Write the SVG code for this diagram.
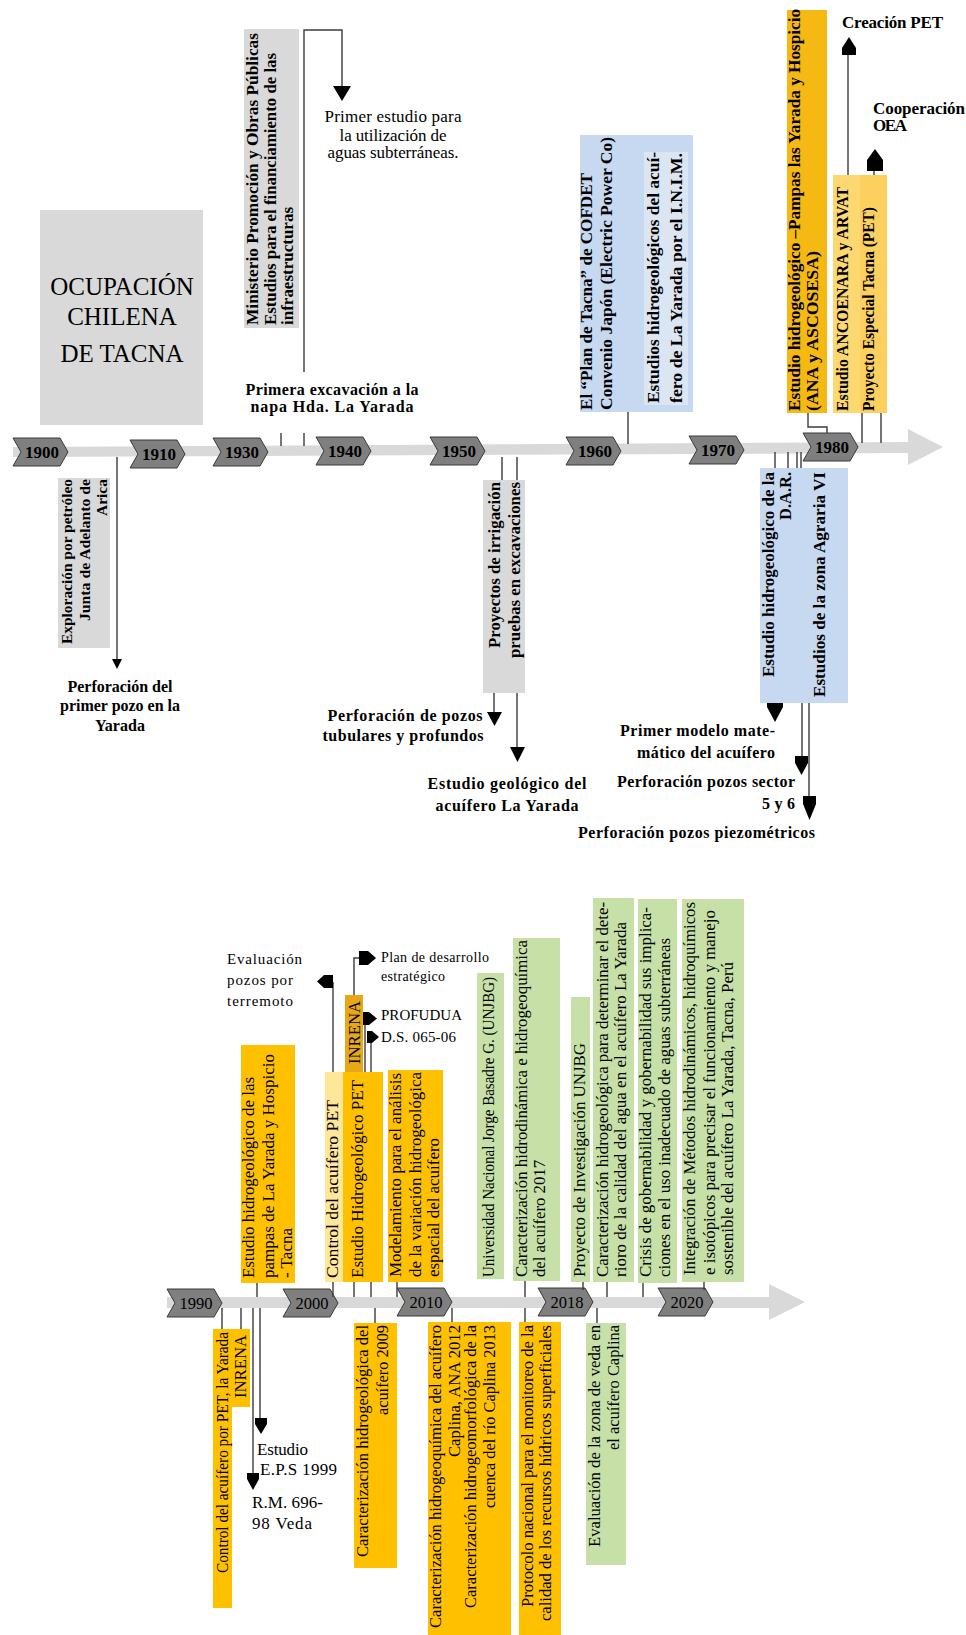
<svg xmlns="http://www.w3.org/2000/svg" width="966" height="1635" viewBox="0 0 966 1635">
<defs>
<style>
.gray{fill:#d9d9d9}
.blue{fill:#c6d9f0}
.blue2{fill:#dce6f2}
.gold{fill:#ffc000}
.gold2{fill:#f6b913}
.lt{fill:#fdd870}
.lt3{fill:#fbd05f}
.lt2{fill:#ffe699}
.dk{fill:#e6a817}
.green{fill:#c6e0a8}
.bar{fill:#d9d9d9}
.chev{fill:#7f7f7f;stroke:#3a3a3a;stroke-width:1}
.b{font-family:"Liberation Serif","Times New Roman",serif;font-weight:bold;fill:#000}
.r{font-family:"Liberation Serif","Times New Roman",serif;fill:#000}
.ln{stroke:#3c3c3c;stroke-width:1.4;fill:none}
.ah{fill:#000}
.yt{font-family:"Liberation Serif","Times New Roman",serif;font-weight:bold;font-size:17px;text-anchor:middle;fill:#000}
.yb{font-family:"Liberation Serif","Times New Roman",serif;font-size:16.5px;text-anchor:middle;fill:#000}
.m{text-anchor:middle}
.e{text-anchor:end}
</style>
<path id="chev" d="M0,0H47L55,14L47,28H0L8,14Z"/>
</defs>

<!-- timeline bars -->
<g id="timeline-top">
<polygon class="bar" points="13,447 908,442 908,429 943,447 908,465 908,453 13,457"/>
<g id="y1900" transform="translate(13,438)"><use href="#chev" class="chev"/><text class="yt" x="29" y="20">1900</text></g>
<g id="y1910" transform="translate(130,440)"><use href="#chev" class="chev"/><text class="yt" x="29" y="20">1910</text></g>
<g id="y1930" transform="translate(213,438)"><use href="#chev" class="chev"/><text class="yt" x="29" y="20">1930</text></g>
<g id="y1940" transform="translate(316,437)"><use href="#chev" class="chev"/><text class="yt" x="29" y="20">1940</text></g>
<g id="y1950" transform="translate(430,437)"><use href="#chev" class="chev"/><text class="yt" x="29" y="20">1950</text></g>
<g id="y1960" transform="translate(566,437)"><use href="#chev" class="chev"/><text class="yt" x="29" y="20">1960</text></g>
<g id="y1970" transform="translate(689,436)"><use href="#chev" class="chev"/><text class="yt" x="29" y="20">1970</text></g>
<g id="y1980" transform="translate(803,433)"><use href="#chev" class="chev"/><text class="yt" x="29" y="20">1980</text></g>
</g>

<g id="timeline-bottom">
<polygon class="bar" points="167,1297 769,1297 769,1284 805,1302 769,1320 769,1308 167,1308"/>
<g id="y1990" transform="translate(167,1289)"><use href="#chev" class="chev"/><text class="yb" x="29" y="20">1990</text></g>
<g id="y2000" transform="translate(283,1289)"><use href="#chev" class="chev"/><text class="yb" x="29" y="20">2000</text></g>
<g id="y2010" transform="translate(397,1288)"><use href="#chev" class="chev"/><text class="yb" x="29" y="20">2010</text></g>
<g id="y2018" transform="translate(538,1288)"><use href="#chev" class="chev"/><text class="yb" x="29" y="20">2018</text></g>
<g id="y2020" transform="translate(658,1288)"><use href="#chev" class="chev"/><text class="yb" x="29" y="20">2020</text></g>
</g>

<!-- connectors -->
<g id="connectors">
<path class="ln" d="M304,372V30H342V88"/>
<polygon class="ah" points="333,86 351,86 342,101"/>
<path class="ln" d="M304,433V446"/>
<path class="ln" d="M281,433V446"/>
<path class="ln" d="M117,457V662"/>
<polygon class="ah" points="112,659 122,659 117,669"/>
<path class="ln" d="M502,457V480M517,457V480"/>
<path class="ln" d="M494,693V713"/>
<polygon class="ah" points="487,712 502,712 494.5,726"/>
<path class="ln" d="M517,693V748"/>
<polygon class="ah" points="510,747 525,747 517.5,762"/>
<path class="ln" d="M628,412V444"/>
<path class="ln" d="M808,413V427H827V433"/>
<path class="ln" d="M862,413V443M881,413V443"/>
<path class="ln" d="M848,175V52"/>
<polygon class="ah" points="849,37 856,48 856,55 842,55 842,48"/>
<path class="ln" d="M886,197H874V168"/>
<polygon class="ah" points="875,149 883,160 883,171 867,171 867,160"/>
<path class="ln" d="M775,452V468M788,452V468M797,452V468M801,452V468"/>
<polygon class="ah" points="767,700 783,700 783,707 775,722 767,707"/>
<path class="ln" d="M802,703V758M809,703V798"/>
<polygon class="ah" points="795,756 808,756 808,763 801.5,775 795,763"/>
<polygon class="ah" points="803,796 816,796 816,804 809.5,820 803,804"/>

<path class="ln" d="M257,1283V1297M333,1282V1297M354,1282V1297M371,1282V1297M397,1282V1297M525,1281V1297M583,1282V1290M607,1282V1297M643,1283V1297M704,1282V1290"/>
<path class="ln" d="M333,1072V982"/>
<polygon class="ah" points="333,975 324,975 317,981.5 324,988 333,988"/>
<path class="ln" d="M354,995V958H360"/>
<polygon class="ah" points="359,951 368,951 376,958 368,965 359,965"/>
<path class="ln" d="M365,1072V1018"/>
<polygon class="ah" points="363,1012 369,1012 377,1018.5 369,1025 363,1025"/>
<path class="ln" d="M371,1072V1037"/>
<polygon class="ah" points="367,1031 372,1031 379,1037 372,1043 367,1043"/>
<path class="ln" d="M222,1308V1329M241,1308V1329M375,1308V1323M452,1308V1322M525,1308V1322M597,1308V1323"/>
<path class="ln" d="M253,1308V1478"/>
<polygon class="ah" points="247,1473 259,1473 259,1479 253,1490 247,1479"/>
<path class="ln" d="M260,1308V1420"/>
<polygon class="ah" points="255,1418 267,1418 267,1424 261,1434 255,1424"/>
</g>

<!-- top nodes -->
<g id="ocupacion">
<rect class="gray" x="40" y="210" width="163" height="215"/>
<text class="r m" font-size="25" x="122" y="295">OCUPACIÓN</text>
<text class="r m" font-size="25" x="122" y="325">CHILENA</text>
<text class="r m" font-size="25" x="122" y="362">DE TACNA</text>
</g>

<g id="ministerio">
<rect class="gray" x="244" y="29" width="55" height="299"/>
<text class="b" font-size="16" transform="translate(258,325) rotate(-90)" textLength="292" lengthAdjust="spacingAndGlyphs">Ministerio Promoción y Obras Públicas</text>
<text class="b" font-size="16" transform="translate(275.5,325) rotate(-90)" textLength="272" lengthAdjust="spacingAndGlyphs">Estudios para el financiamiento de las</text>
<text class="b" font-size="16" transform="translate(293,325) rotate(-90)" textLength="118" lengthAdjust="spacingAndGlyphs">infraestructuras</text>
</g>

<g id="primer-estudio">
<text class="r m" font-size="17" x="393" y="122" textLength="137">Primer estudio para</text>
<text class="r m" font-size="17" x="393" y="141" textLength="107">la utilización de</text>
<text class="r m" font-size="17" x="393" y="158" textLength="131">aguas subterráneas.</text>
</g>

<g id="primera-excavacion">
<text class="b m" font-size="16" x="332" y="395" textLength="173">Primera excavación a la</text>
<text class="b m" font-size="16" x="332" y="412" textLength="163">napa Hda. La Yarada</text>
</g>

<g id="exploracion">
<rect class="gray" x="58" y="478" width="52" height="170"/>
<text class="b e" font-size="15.5" transform="translate(72,479) rotate(-90)" textLength="165" lengthAdjust="spacingAndGlyphs">Exploración por petróleo</text>
<text class="b e" font-size="15.5" transform="translate(90,479) rotate(-90)" textLength="142" lengthAdjust="spacingAndGlyphs">Junta de Adelanto de</text>
<text class="b e" font-size="15.5" transform="translate(107,479) rotate(-90)" textLength="37" lengthAdjust="spacingAndGlyphs">Arica</text>
</g>

<g id="perforacion-primer-pozo">
<text class="b m" font-size="16" x="120" y="692" textLength="105">Perforación del</text>
<text class="b m" font-size="16" x="120" y="711" textLength="120">primer pozo en la</text>
<text class="b m" font-size="16" x="120" y="731" textLength="50">Yarada</text>
</g>

<g id="proyectos-irrigacion">
<rect class="gray" x="483" y="480" width="42" height="213"/>
<text class="b e" font-size="16" transform="translate(500,482) rotate(-90)" textLength="166" lengthAdjust="spacingAndGlyphs">Proyectos de irrigación</text>
<text class="b e" font-size="16" transform="translate(520,482) rotate(-90)" textLength="176" lengthAdjust="spacingAndGlyphs">pruebas en excavaciones</text>
</g>

<g id="perforacion-tubulares">
<text class="b m" font-size="16" x="405" y="721" textLength="155">Perforación de pozos</text>
<text class="b m" font-size="16" x="403" y="741" textLength="161">tubulares y profundos</text>
</g>

<g id="estudio-geologico">
<text class="b m" font-size="16" x="507" y="789" textLength="159">Estudio  geológico del</text>
<text class="b m" font-size="16" x="507" y="811" textLength="143">acuífero La Yarada</text>
</g>

<g id="plan-tacna">
<rect class="blue" x="580" y="135" width="113" height="277"/>
<text class="b" font-size="17" transform="translate(592,410) rotate(-90)" textLength="237" lengthAdjust="spacingAndGlyphs">El “Plan de Tacna” de COFDET</text>
<text class="b" font-size="17" transform="translate(612,410) rotate(-90)" textLength="273" lengthAdjust="spacingAndGlyphs">Convenio Japón (Electric Power Co)</text>
</g>

<g id="estudios-inim">
<rect class="blue2" x="644" y="152" width="44" height="253"/>
<text class="b" font-size="16" transform="translate(659,403) rotate(-90)" textLength="251" lengthAdjust="spacingAndGlyphs">Estudios hidrogeológicos del acuí-</text>
<text class="b" font-size="16" transform="translate(682,403) rotate(-90)" textLength="250" lengthAdjust="spacingAndGlyphs">fero de La Yarada por el I.N.I.M.</text>
</g>

<g id="estudio-pampas-1980">
<rect class="gold2" x="787" y="10" width="40" height="403"/>
<text class="b" font-size="16.5" transform="translate(800,411) rotate(-90)" textLength="402" lengthAdjust="spacingAndGlyphs">Estudio hidrogeológico –Pampas las Yarada y Hospicio</text>
<text class="b" font-size="16.5" transform="translate(818,411) rotate(-90)" textLength="160" lengthAdjust="spacingAndGlyphs">(ANA y ASCOSESA)</text>
</g>

<g id="ancoenara">
<rect class="lt" x="833" y="175" width="27" height="238"/>
<text class="b" font-size="16" transform="translate(848,411) rotate(-90)" textLength="224" lengthAdjust="spacingAndGlyphs">Estudio ANCOENARA y ARVAT</text>
</g>

<g id="pet">
<rect class="lt3" x="860" y="175" width="27" height="238"/>
<text class="b" font-size="16" transform="translate(874,411) rotate(-90)" textLength="204" lengthAdjust="spacingAndGlyphs">Proyecto Especial Tacna (PET)</text>
</g>

<g id="creacion-pet">
<text class="b" font-size="17" x="842" y="28" textLength="101">Creación PET</text>
</g>

<g id="cooperacion-oea">
<text class="b" font-size="17" x="873" y="114" textLength="92">Cooperación</text>
<text class="b" font-size="17" x="873" y="131" textLength="34">OEA</text>
</g>

<g id="dar">
<rect class="blue" x="760" y="468" width="88" height="235"/>
<text class="b e" font-size="16" transform="translate(774,472) rotate(-90)" textLength="205" lengthAdjust="spacingAndGlyphs">Estudio hidrogeológico de la</text>
<text class="b e" font-size="16" transform="translate(791,472) rotate(-90)" textLength="48" lengthAdjust="spacingAndGlyphs">D.A.R.</text>
<text class="b" font-size="16" transform="translate(825,697) rotate(-90)" textLength="225" lengthAdjust="spacingAndGlyphs">Estudios de la zona Agraria VI</text>
</g>

<g id="primer-modelo">
<text class="b e" font-size="16" x="775" y="736" textLength="155">Primer modelo mate-</text>
<text class="b e" font-size="16" x="775" y="758" textLength="138">mático del acuífero</text>
</g>

<g id="perforacion-sector">
<text class="b e" font-size="16" x="795" y="787" textLength="178">Perforación pozos sector</text>
<text class="b e" font-size="16" x="795" y="809" textLength="33">5 y 6</text>
</g>

<g id="perforacion-piezometricos">
<text class="b" font-size="16" x="578" y="838" textLength="237">Perforación pozos piezométricos</text>
</g>

<!-- bottom nodes, above bar -->
<g id="estudio-pampas-tacna">
<rect class="gold" x="241" y="1045" width="54" height="238"/>
<text class="r" font-size="16" transform="translate(254,1278) rotate(-90)" textLength="201" lengthAdjust="spacingAndGlyphs">Estudio hidrogeológico de las</text>
<text class="r" font-size="16" transform="translate(274,1278) rotate(-90)" textLength="224" lengthAdjust="spacingAndGlyphs">pampas de La Yarada y Hospicio</text>
<text class="r" font-size="16" transform="translate(292,1278) rotate(-90)" textLength="50" lengthAdjust="spacingAndGlyphs">- Tacna</text>
</g>

<g id="evaluacion-terremoto">
<text class="r" font-size="15" x="227" y="964" textLength="75">Evaluación</text>
<text class="r" font-size="15" x="227" y="985" textLength="66">pozos por</text>
<text class="r" font-size="15" x="227" y="1006" textLength="66">terremoto</text>
</g>

<g id="control-pet">
<rect class="lt2" x="325" y="1072" width="18" height="210"/>
<text class="r" font-size="16" transform="translate(338,1278) rotate(-90)" textLength="178" lengthAdjust="spacingAndGlyphs">Control del acuífero PET</text>
</g>

<g id="estudio-hidro-pet">
<rect class="gold" x="343" y="1072" width="40" height="210"/>
<text class="r" font-size="16" transform="translate(363,1278) rotate(-90)" textLength="198" lengthAdjust="spacingAndGlyphs">Estudio Hidrogeológico PET</text>
</g>

<g id="inrena-top">
<rect class="dk" x="345" y="995" width="18" height="77"/>
<text class="r" font-size="16" transform="translate(360,1064) rotate(-90)" textLength="63" lengthAdjust="spacingAndGlyphs">INRENA</text>
</g>

<g id="plan-desarrollo">
<text class="r" font-size="14" x="381" y="962" textLength="108">Plan de desarrollo</text>
<text class="r" font-size="14" x="381" y="981" textLength="64">estratégico</text>
</g>

<g id="profudua">
<text class="r" font-size="15" x="381" y="1020" textLength="81">PROFUDUA</text>
</g>

<g id="ds-065">
<text class="r" font-size="15" x="381" y="1042" textLength="75">D.S. 065-06</text>
</g>

<g id="modelamiento">
<rect class="gold" x="388" y="1070" width="55" height="212"/>
<text class="r" font-size="16" transform="translate(401,1277) rotate(-90)" textLength="204" lengthAdjust="spacingAndGlyphs">Modelamiento para el análisis</text>
<text class="r" font-size="16" transform="translate(421,1277) rotate(-90)" textLength="205" lengthAdjust="spacingAndGlyphs">de la variación hidrogeológica</text>
<text class="r" font-size="16" transform="translate(439,1277) rotate(-90)" textLength="139" lengthAdjust="spacingAndGlyphs">espacial del acuífero</text>
</g>

<g id="unjbg">
<rect class="green" x="477" y="973" width="27" height="306"/>
<text class="r" font-size="16" transform="translate(494,1277) rotate(-90)" textLength="300" lengthAdjust="spacingAndGlyphs">Universidad Nacional Jorge Basadre G. (UNJBG)</text>
</g>

<g id="hidrodinamica-2017">
<rect class="green" x="513" y="938" width="47" height="343"/>
<text class="r" font-size="16" transform="translate(527,1277) rotate(-90)" textLength="337" lengthAdjust="spacingAndGlyphs">Caracterización hidrodinámica e hidrogeoquímica</text>
<text class="r" font-size="16" transform="translate(545,1277) rotate(-90)" textLength="117" lengthAdjust="spacingAndGlyphs">del acuífero 2017</text>
</g>

<g id="proyecto-unjbg">
<rect class="green" x="571" y="997" width="19" height="285"/>
<text class="r" font-size="16" transform="translate(584.5,1277) rotate(-90)" textLength="234" lengthAdjust="spacingAndGlyphs">Proyecto de Investigación UNJBG</text>
</g>

<g id="deterioro-calidad">
<rect class="green" x="593" y="898" width="41" height="384"/>
<text class="r" font-size="16" transform="translate(608,1277) rotate(-90)" textLength="375" lengthAdjust="spacingAndGlyphs">Caracterización hidrogeológica para determinar el dete-</text>
<text class="r" font-size="16" transform="translate(626,1277) rotate(-90)" textLength="355" lengthAdjust="spacingAndGlyphs">rioro de la calidad del agua en el acuífero La Yarada</text>
</g>

<g id="crisis-gobernabilidad">
<rect class="green" x="638" y="899" width="39" height="384"/>
<text class="r" font-size="16" transform="translate(651,1277) rotate(-90)" textLength="370" lengthAdjust="spacingAndGlyphs">Crisis de gobernabilidad y gobernabilidad sus implica-</text>
<text class="r" font-size="16" transform="translate(670,1277) rotate(-90)" textLength="339" lengthAdjust="spacingAndGlyphs">ciones en el uso inadecuado de aguas subterráneas</text>
</g>

<g id="integracion-metodos">
<rect class="green" x="682" y="899" width="62" height="383"/>
<text class="r" font-size="16" transform="translate(695,1275) rotate(-90)" textLength="373" lengthAdjust="spacingAndGlyphs">Integración de Métodos hidrodinámicos, hidroquímicos</text>
<text class="r" font-size="16" transform="translate(715,1275) rotate(-90)" textLength="365" lengthAdjust="spacingAndGlyphs">e isotópicos para precisar el funcionamiento y manejo</text>
<text class="r" font-size="16" transform="translate(733,1275) rotate(-90)" textLength="313" lengthAdjust="spacingAndGlyphs">sostenible del acuífero La Yarada, Tacna, Perú</text>
</g>

<!-- bottom nodes, below bar -->
<g id="control-por-pet">
<rect class="gold" x="213" y="1329" width="19" height="279"/>
<text class="r e" font-size="16" transform="translate(228,1332) rotate(-90)" textLength="241" lengthAdjust="spacingAndGlyphs">Control del acuífero por PET, la Yarada</text>
</g>

<g id="inrena-bottom">
<rect class="gold" x="232" y="1329" width="18" height="78"/>
<text class="r e" font-size="16" transform="translate(246,1335) rotate(-90)" textLength="63" lengthAdjust="spacingAndGlyphs">INRENA</text>
</g>

<g id="estudio-eps">
<text class="r" font-size="17" x="257" y="1455" textLength="51">Estudio</text>
<text class="r" font-size="17" x="260" y="1475" textLength="77">E.P.S 1999</text>
</g>

<g id="rm-veda">
<text class="r" font-size="17" x="252" y="1508" textLength="71">R.M. 696-</text>
<text class="r" font-size="17" x="252" y="1529" textLength="60">98 Veda</text>
</g>

<g id="acuifero-2009">
<rect class="gold" x="354" y="1323" width="43" height="245"/>
<text class="r e" font-size="16" transform="translate(368,1325) rotate(-90)" textLength="232" lengthAdjust="spacingAndGlyphs">Caracterización hidrogeológica del</text>
<text class="r e" font-size="16" transform="translate(388,1325) rotate(-90)" textLength="90" lengthAdjust="spacingAndGlyphs">acuífero 2009</text>
</g>

<g id="caplina-2012-2013">
<rect class="gold" x="428" y="1322" width="83" height="313"/>
<text class="r e" font-size="16" transform="translate(441,1325) rotate(-90)" textLength="303" lengthAdjust="spacingAndGlyphs">Caracterización hidrogeoquímica del acuífero</text>
<text class="r e" font-size="16" transform="translate(459.5,1325) rotate(-90)" textLength="132" lengthAdjust="spacingAndGlyphs">Caplina, ANA 2012</text>
<text class="r e" font-size="16" transform="translate(476,1325) rotate(-90)" textLength="283" lengthAdjust="spacingAndGlyphs">Caracterización hidrogeomorfológica de la</text>
<text class="r e" font-size="16" transform="translate(495,1325) rotate(-90)" textLength="183" lengthAdjust="spacingAndGlyphs">cuenca del río Caplina 2013</text>
</g>

<g id="protocolo">
<rect class="gold" x="519" y="1322" width="42" height="313"/>
<text class="r e" font-size="16" transform="translate(533,1325) rotate(-90)" textLength="282" lengthAdjust="spacingAndGlyphs">Protocolo nacional para el monitoreo de la</text>
<text class="r e" font-size="16" transform="translate(551,1325) rotate(-90)" textLength="296" lengthAdjust="spacingAndGlyphs">calidad de los recursos hídricos superficiales</text>
</g>

<g id="zona-veda">
<rect class="green" x="586" y="1323" width="40" height="242"/>
<text class="r e" font-size="16" transform="translate(599.5,1325) rotate(-90)" textLength="222" lengthAdjust="spacingAndGlyphs">Evaluación de la zona de veda en</text>
<text class="r e" font-size="16" transform="translate(618.5,1325) rotate(-90)" textLength="125" lengthAdjust="spacingAndGlyphs">el acuífero Caplina</text>
</g>
</svg>
